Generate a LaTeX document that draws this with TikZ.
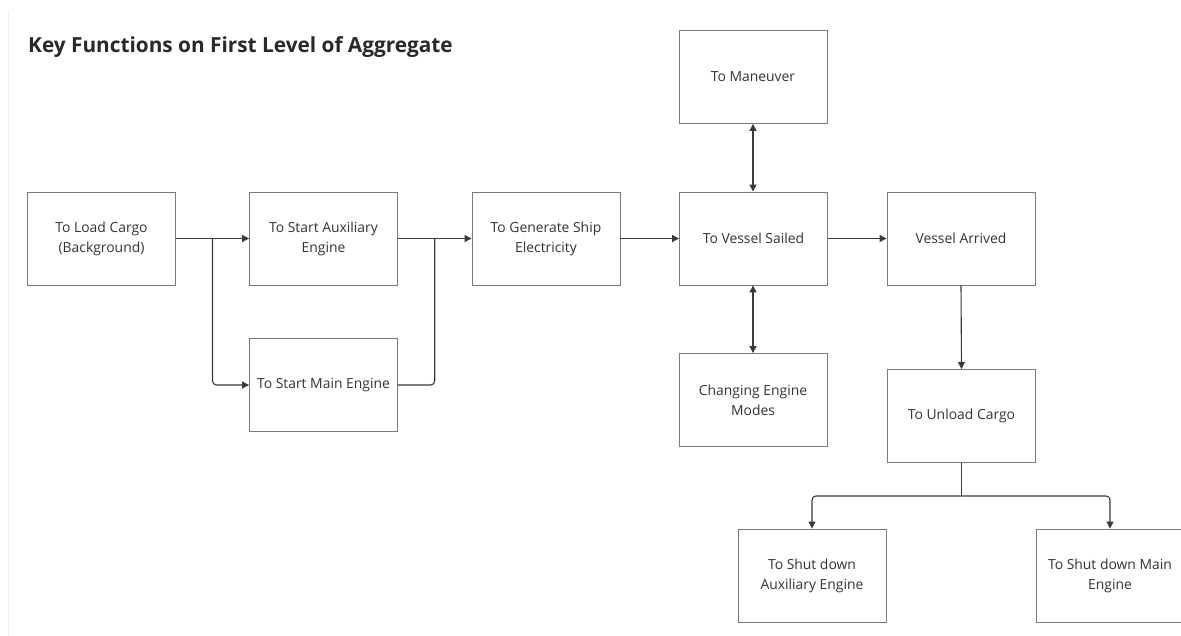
\documentclass[tikz,border=0pt]{standalone}
\usepackage{fontspec}
\setmainfont{Open Sans}
\usetikzlibrary{arrows.meta,calc}
\definecolor{boxline}{HTML}{7A7A7A}
\definecolor{linkline}{HTML}{3A3A3A}
\definecolor{txt}{HTML}{333333}
\definecolor{frameline}{HTML}{EFEFEF}
\begin{document}
\begin{tikzpicture}[x=1pt,y=-1pt,
  fnbox/.style={draw=boxline, line width=0.9pt, fill=white, minimum width=148pt,
    minimum height=93pt, inner sep=0pt, align=center, text=txt,
    font=\fontsize{13.9}{20}\selectfont},
  link/.style={draw=linkline, line width=1.1pt, rounded corners=4pt,
    -{Triangle[length=7pt,width=7pt]}},
  dlink/.style={link, {Triangle[length=7pt,width=7pt]}-{Triangle[length=7pt,width=7pt]}},
  plain/.style={draw=linkline, line width=1.1pt, rounded corners=4pt}]
\useasboundingbox (0,0) rectangle (1181,636);
\fill[white] (0,0) rectangle (1181,636);
\draw[frameline, line width=1pt] (8,11) -- (8,636);

\node[anchor=west, inner sep=0pt, text=txt!80!black, font=\bfseries\fontsize{20.8}{25}\selectfont] (title) at (28,47)
  {Key Functions on First Level of Aggregate};

% function boxes
\node[fnbox] (load)     at (101.5,238.5) {To Load Cargo\\(Background)};
\node[fnbox] (aux)      at (323.5,238.5) {To Start Auxiliary\\Engine};
\node[fnbox] (main)     at (323.5,385)   {To Start Main Engine};
\node[fnbox] (gen)      at (546,238.5)   {To Generate Ship\\Electricity};
\node[fnbox] (sailed)   at (753.5,238.5) {To Vessel Sailed};
\node[fnbox] (arrived)  at (961,238.5)   {Vessel Arrived};
\node[fnbox] (maneuver) at (753,77)      {To Maneuver};
\node[fnbox] (modes)    at (753,400)     {Changing Engine\\Modes};
\node[fnbox] (unload)   at (961.5,416)   {To Unload Cargo};
\node[fnbox] (sdaux)    at (812,575.5)   {To Shut down\\Auxiliary Engine};
\node[fnbox] (sdmain)   at (1110,575.5)  {To Shut down Main\\Engine};

% branch points
\coordinate (split1) at ($(load.east)!0.5!(aux.west)$);
\coordinate (join1)  at ($(aux.east)!0.5!(gen.west)$);
\coordinate (split2) at ($(unload.south)+(0,33)$);

% connectors
\draw[link] (load.east) -- (aux.west);
\draw[link] (split1) |- (main.west);
\draw[link] (aux.east) -- (gen.west);
\draw[plain] (main.east) -| (join1);
\draw[link] (gen.east) -- (sailed.west);
\draw[link] (sailed.east) -- (arrived.west);
\draw[dlink] (maneuver.south) -- (maneuver.south |- sailed.north);
\draw[dlink] (sailed.south -| modes.north) -- (modes.north);
\draw[link] (arrived.south) -- (unload.north);
\draw[plain] (unload.south) -- (split2);
\draw[link] (split2) -| (sdaux.north);
\draw[link] (split2) -| (sdmain.north);
\end{tikzpicture}
\end{document}
